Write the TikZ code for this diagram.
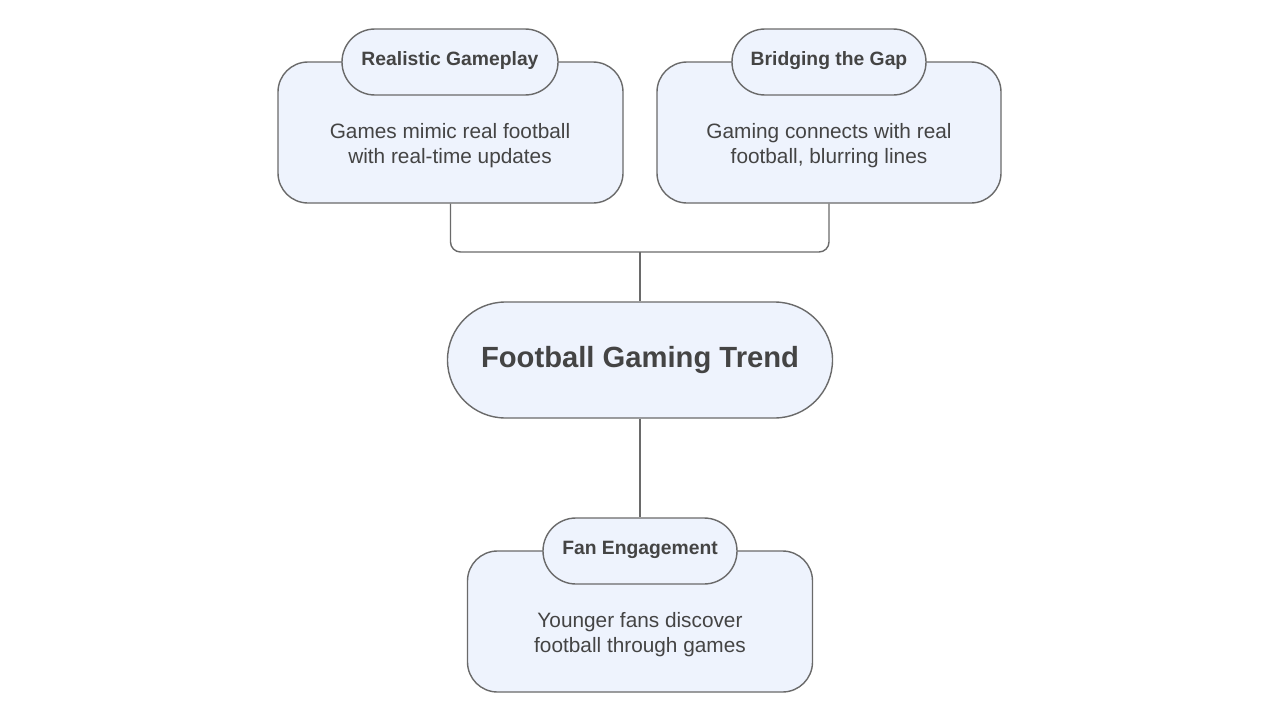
\documentclass[tikz,border=0pt]{standalone}
\usepackage{fontspec}
\setmainfont{Liberation Sans}
\begin{document}
\begin{tikzpicture}[x=1pt,y=-1pt,
  box/.style={draw=linegray,line width=1.4pt,fill=boxfill,rounded corners=30pt,inner sep=0pt},
  pill/.style={draw=linegray,line width=1.4pt,fill=boxfill,inner sep=0pt},
  body/.style={text=txtgray,font=\fontsize{20.8}{25}\selectfont,align=center},
  head/.style={text=txtgray,font=\fontsize{19.3}{22}\selectfont\bfseries,text height=14pt,text depth=8pt},
  conn/.style={draw=linegray,line width=1.4pt}]
\definecolor{linegray}{HTML}{6A6A6A}
\definecolor{boxfill}{HTML}{EEF3FD}
\definecolor{txtgray}{HTML}{444444}
\useasboundingbox[fill=white] (0,0) rectangle (1280,720);
% boxes
\node[box,minimum width=345pt,minimum height=141pt] (b1) at (450.5,132.5) {};
\node[box,minimum width=344pt,minimum height=141pt] (b2) at (829,132.5) {};
\node[box,minimum width=345pt,minimum height=141pt] (b3) at (640,621.5) {};
\node[pill,rounded corners=33pt,minimum width=216pt,minimum height=66pt,head] (p1) at (450,62) {Realistic Gameplay};
\node[pill,rounded corners=33pt,minimum width=194pt,minimum height=66pt,head] (p2) at (829,62) {Bridging the Gap};
\node[pill,rounded corners=33pt,minimum width=194pt,minimum height=66pt,head] (p3) at (640,551) {Fan Engagement};
\node[body] (t1) at (450,146) {Games mimic real football\\with real-time updates};
\node[body] (t2) at (829,146) {Gaming connects with real\\football, blurring lines};
\node[body] (t3) at (640,635) {Younger fans discover\\football through games};
\node[pill,rounded corners=58pt,minimum width=385pt,minimum height=116pt,text=txtgray,font=\fontsize{29.2}{32}\selectfont\bfseries] (c) at (640,360) {Football Gaming Trend};
% connectors
\coordinate (j) at (640,252);
\draw[conn,rounded corners=10pt] (b1.south) |- (j) -| (b2.south);
\draw[conn] (j) -- (c.north);
\draw[conn] (c.south) -- (p3.north);
\end{tikzpicture}
\end{document}
